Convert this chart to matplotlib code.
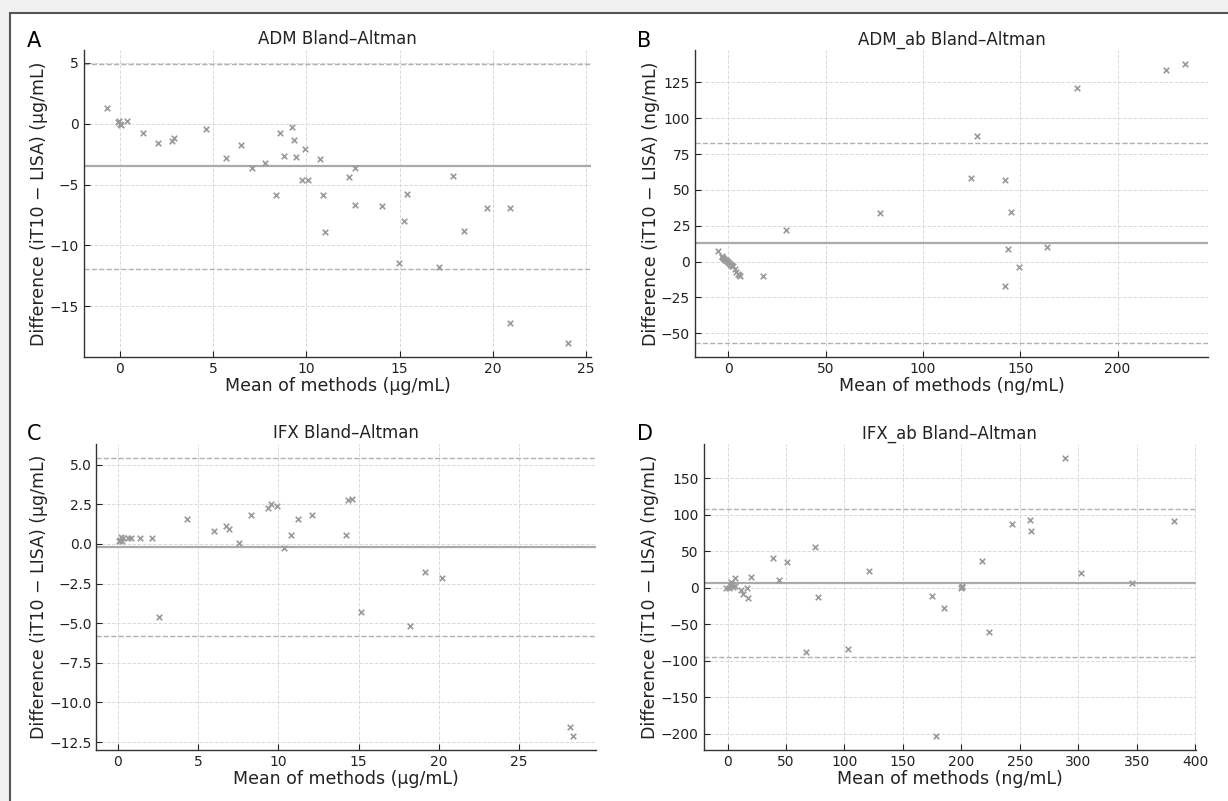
import matplotlib
matplotlib.use("Agg")
import matplotlib.pyplot as plt
from matplotlib.patches import Rectangle

# ---------------- data ----------------
adm_mean = [-0.68, -0.1, 0.0, 0.05, -0.05, 0.39, 1.23, 2.07, 2.82, 2.91, 4.61, 5.71, 6.48,
            7.11, 7.80, 8.39, 8.59, 8.80, 9.23, 9.32, 9.46, 9.93, 9.75, 10.09, 10.73,
            10.89, 10.98, 12.27, 12.59, 12.61, 14.04, 14.95, 15.25, 15.38, 17.11,
            17.84, 18.46, 19.70, 20.89, 20.89, 24.02]
adm_diff = [1.32, 0.1, 0.0, -0.1, 0.2, 0.19, -0.74, -1.59, -1.43, -1.21, -0.44, -2.85, -1.78,
            -3.68, -3.26, -5.87, -0.80, -2.63, -0.30, -1.32, -2.77, -2.11, -4.61, -4.64, -2.91,
            -5.87, -8.89, -4.39, -3.65, -6.69, -6.78, -11.44, -7.98, -5.82, -11.77,
            -4.31, -8.83, -6.89, -6.89, -16.35, -18.02]

admab_mean = [-5.1, -3.4, -3.0, -2.5, -2.0, -1.5, -1.0, -0.5, 0.0, 0.5, 1.0, 1.5, 2.0, 2.5,
              3.4, 4.2, 4.8, 5.5, 5.9, 17.9, 29.9, 78.0, 124.9, 128.0, 142.0, 145.4, 143.5,
              142.3, 149.5, 163.7, 179.0, 224.7, 234.5]
admab_diff = [7.2, 3.7, 3.2, 2.6, 2.0, 1.4, 0.8, 0.2, -0.4, -1.0, -1.6, -2.2, -2.8, -3.3,
              -5.5, -7.5, -8.5, -9.5, -10.3, -9.8, 22.2, 33.8, 58.1, 87.3, 57.2, 34.5, 8.4,
              -17.3, -3.5, 10.3, 121.1, 133.7, 137.9]

ifx_mean = [0.10, 0.19, 0.31, 0.08, 0.25, 0.62, 0.81, 1.39, 2.10, 2.58, 4.32, 5.99, 6.73,
            6.92, 7.56, 8.31, 9.37, 9.56, 9.91, 10.33, 10.79, 11.22, 12.09, 14.21, 14.34,
            14.57, 15.15, 18.20, 19.12, 20.18, 28.18, 28.39]
ifx_diff = [0.25, 0.46, 0.36, 0.15, 0.19, 0.40, 0.40, 0.40, 0.38, -4.58, 1.55, 0.82, 1.15,
            0.94, 0.06, 1.80, 2.24, 2.49, 2.39, -0.25, 0.59, 1.55, 1.80, 0.59, 2.76,
            2.85, -4.31, -5.21, -1.80, -2.16, -11.56, -12.12]

ifxab_mean = [-1.4, 1.0, 2.0, 3.0, 4.0, 5.0, 6.0, 6.0, 11.4, 13.1, 16.8, 17.1, 20.5, 39.1,
              44.2, 51.0, 67.0, 74.7, 77.3, 102.9, 121.4, 174.7, 178.7, 185.6, 199.5,
              200.4, 201.0, 218.1, 224.1, 243.2, 258.5, 259.9, 288.8, 302.7, 346.1, 381.7]
ifxab_diff = [0.0, 0.0, 3.0, 8.0, 5.0, 1.0, 2.0, 13.7, -3.6, -8.2, 0.0, -14.6, 14.6, 40.1,
              10.9, 35.1, -88.0, 56.1, -12.8, -84.4, 22.4, -11.4, -203.5, -27.8, 0.0,
              2.7, 1.0, 37.0, -60.7, 87.1, 92.2, 78.0, 177.9, 19.6, 6.8, 91.7]

# bias and limits of agreement (lower, bias, upper)
adm_lines = [-11.9, -3.5, 4.9]
admab_lines = [-56.9, 12.8, 82.4]
ifx_lines = [-5.82, -0.21, 5.42]
ifxab_lines = [-94.4, 6.4, 107.7]

titles = ["ADM Bland–Altman", "ADM_ab Bland–Altman", "IFX Bland–Altman", "IFX_ab Bland–Altman"]
units = ["µg/mL", "ng/mL", "µg/mL", "ng/mL"]
letters = ["A", "B", "C", "D"]

# ---------------- figure ----------------
W, H = 1228, 801
fig = plt.figure(figsize=(W / 100, H / 100), dpi=100)
fig.patch.set_facecolor("#f0f0f0")
fig.patches.append(Rectangle((10 / W, -0.01), 1.1, (H - 13) / H + 0.01,
                             transform=fig.transFigure, facecolor="white",
                             edgecolor="#555555", linewidth=1.5, zorder=-10))

boxes = [(84, 591, 50, 357), (695, 1208, 50, 357), (96.5, 596, 444, 750), (703.5, 1196, 444, 750)]
letter_pos = [(27, 47), (637, 47), (27, 440), (637, 440)]
datasets = [(adm_mean, adm_diff, adm_lines), (admab_mean, admab_diff, admab_lines),
            (ifx_mean, ifx_diff, ifx_lines), (ifxab_mean, ifxab_diff, ifxab_lines)]

for i, ((xs, ys, lines), (l, r, t, b)) in enumerate(zip(datasets, boxes)):
    ax = fig.add_axes([l / W, (H - b) / H, (r - l) / W, (b - t) / H])
    ax.set_facecolor("none")
    ax.scatter(xs, ys, marker="x", s=16, color="#9a9a9a", linewidths=1.2, zorder=3)
    ax.axhline(lines[1], color="#aaaaaa", lw=1.6, zorder=2)
    ax.axhline(lines[0], color="#b0b0b0", lw=1.0, ls="--", zorder=2)
    ax.axhline(lines[2], color="#b0b0b0", lw=1.0, ls="--", zorder=2)
    ax.grid(True, ls="--", color="#dadada", lw=0.7)
    ax.set_axisbelow(True)
    for s in ["top", "right"]:
        ax.spines[s].set_visible(False)
    for s in ["left", "bottom"]:
        ax.spines[s].set_color("#333333")
        ax.spines[s].set_linewidth(1.0)
    ax.tick_params(direction="in", length=4, labelsize=10, colors="#222222")
    ax.set_title(titles[i], fontsize=12, color="#222222", pad=4)
    ax.set_xlabel(f"Mean of methods ({units[i]})", fontsize=12.5, color="#222222", labelpad=1)
    ax.set_ylabel(f"Difference (iT10 − LISA) ({units[i]})", fontsize=12.5, color="#222222", labelpad=1)
    lx, ly = letter_pos[i]
    fig.text(lx / W, (H - ly) / H, letters[i], fontsize=15, ha="left", va="baseline", color="black")

fig.savefig("out.png", dpi=100, facecolor=fig.get_facecolor())
